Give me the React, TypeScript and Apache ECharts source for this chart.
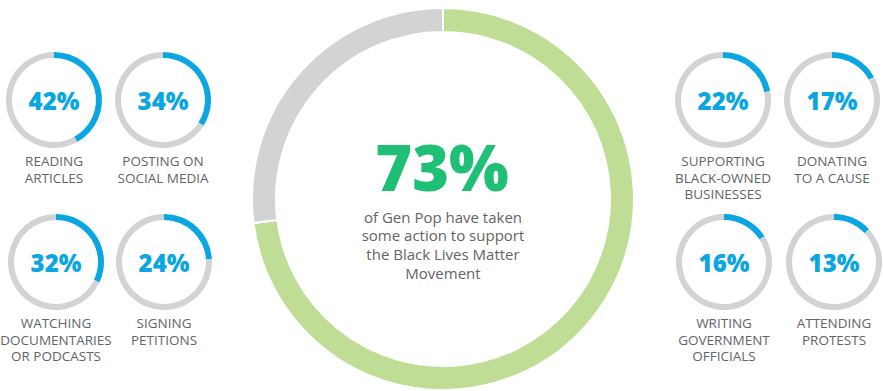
import React, { useEffect, useRef } from "react";
import * as echarts from "echarts";

const mainValue = 73;
const mainCaption = ["of Gen Pop have taken", "some action to support", "the Black Lives Matter", "Movement"];

const actionLabels = [
  "READING\nARTICLES",
  "POSTING ON\nSOCIAL MEDIA",
  "WATCHING\nDOCUMENTARIES\nOR PODCASTS",
  "SIGNING\nPETITIONS",
  "SUPPORTING\nBLACK-OWNED\nBUSINESSES",
  "DONATING\nTO A CAUSE",
  "WRITING\nGOVERNMENT\nOFFICIALS",
  "ATTENDING\nPROTESTS",
];
const actionValues = [42, 34, 32, 24, 22, 17, 16, 13];

const FONT = "'Open Sans', 'Noto Sans', sans-serif";
const BLUE = "#0aa6e1";
const GREY = "#d2d3d5";
const GREEN_RING = "#bfdd95";
const GREEN_TEXT = "#1fbf76";
const TEXT_GREY = "#636466";

const smallCenters: [number, number][] = [
  [54, 100],
  [163, 100],
  [56, 262],
  [164, 262],
  [723, 100],
  [832, 100],
  [724, 262],
  [834, 262],
];

export default function App() {
  const ref = useRef<HTMLDivElement>(null);
  useEffect(() => {
    if (!ref.current) return;
    const chart = echarts.init(ref.current, null, { renderer: "svg" });
    const series: any[] = [];
    series.push({
      type: "pie",
      center: [443, 199],
      radius: [167, 191],
      startAngle: 90,
      clockwise: true,
      silent: true,
      label: { show: false },
      labelLine: { show: false },
      itemStyle: { borderColor: "#ffffff", borderWidth: 2 },
      data: [
        { value: mainValue, itemStyle: { color: GREEN_RING } },
        { value: 100 - mainValue, itemStyle: { color: GREY } },
      ],
    });
    actionValues.forEach((v, i) => {
      series.push({
        type: "pie",
        center: smallCenters[i],
        radius: [42, 48],
        startAngle: 90,
        clockwise: true,
        silent: true,
        labelLine: { show: false },
        data: [
          {
            value: v,
            itemStyle: { color: BLUE },
            label: {
              show: true,
              position: "center",
              formatter: v + "%",
              color: BLUE,
              fontFamily: FONT,
              fontWeight: 800,
              fontSize: 24,
            },
          },
          { value: 100 - v, itemStyle: { color: GREY }, label: { show: false } },
        ],
      });
    });
    const graphics: any[] = [];
    actionLabels.forEach((t, i) => {
      const [cx, cy] = smallCenters[i];
      t.split("\n").forEach((line, j) => {
        graphics.push({
          type: "text",
          x: cx,
          y: cy + 61 + j * 16.5,
          style: {
            text: line,
            fill: TEXT_GREY,
            font: `13.5px ${FONT}`,
            textAlign: "center",
            textVerticalAlign: "middle",
          },
        });
      });
    });
    graphics.push({
      type: "text",
      x: 442,
      y: 166,
      style: {
        text: mainValue + "%",
        fill: GREEN_TEXT,
        font: `800 63px ${FONT}`,
        textAlign: "center",
        textVerticalAlign: "middle",
      },
    });
    mainCaption.forEach((line, j) => {
      graphics.push({
        type: "text",
        x: 443,
        y: 216.5 + j * 18.8,
        style: {
          text: line,
          fill: TEXT_GREY,
          font: `15px ${FONT}`,
          textAlign: "center",
          textVerticalAlign: "middle",
        },
      });
    });
    chart.setOption({
      animation: false,
      backgroundColor: "#ffffff",
      series,
      graphic: graphics,
    });
    return () => chart.dispose();
  }, []);
  return (
    <div
      ref={ref}
      style={{ position: "fixed", left: 0, top: 0, width: 883, height: 391 }}
    />
  );
}
